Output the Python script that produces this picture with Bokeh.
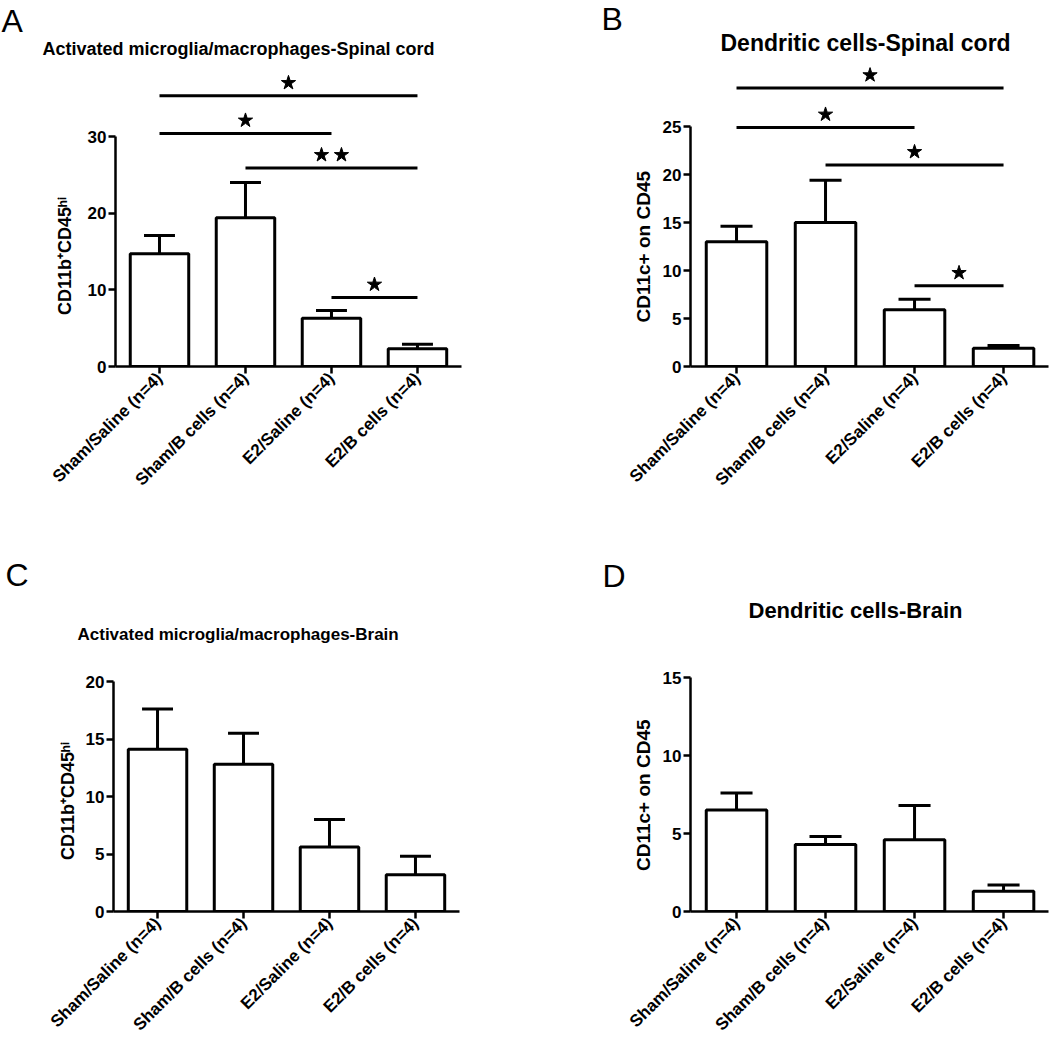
import math
from bokeh.plotting import figure
from bokeh.models import Range1d, FixedTicker, ColumnDataSource, Title
from bokeh.layouts import column, row
from bokeh.embed import file_html
from bokeh.resources import INLINE

# ---------------- data ----------------
groups = ["Sham/Saline (n=4)", "Sham/B cells (n=4)", "E2/Saline (n=4)", "E2/B cells (n=4)"]

a_mean = [14.7, 19.4, 6.3, 2.3]
a_sem = [2.4, 4.6, 1.0, 0.6]
b_mean = [13.0, 15.0, 5.9, 1.9]
b_sem = [1.6, 4.4, 1.1, 0.3]
c_mean = [14.1, 12.8, 5.6, 3.2]
c_sem = [3.5, 2.7, 2.4, 1.6]
d_mean = [6.5, 4.3, 4.6, 1.3]
d_sem = [1.1, 0.5, 2.2, 0.4]

sig_pairs = [(0, 3), (0, 2), (1, 3), (2, 3)]
a_sig_y = [35.3, 30.4, 25.9, 9.0]
a_sig_stars = [1, 1, 2, 1]
b_sig_y = [29.0, 24.9, 21.0, 8.4]
b_sig_stars = [1, 1, 1, 1]

a_ticks = [0, 10, 20, 30]
b_ticks = [0, 5, 10, 15, 20, 25]
c_ticks = [0, 5, 10, 15, 20]
d_ticks = [0, 5, 10, 15]

ylab_b = "CD11b\u207aCD45\u02b0\u2071"
ylab_c = "CD11c+ on CD45"

FONT = "Liberation Sans"


def panel(cfg):
    p = figure(width=cfg["w"], height=cfg["h"], title=None,
               x_range=Range1d(*cfg["xr"]), y_range=Range1d(0, cfg["yend"]),
               output_backend="svg", toolbar_location=None,
               min_border_left=cfg["ml"], min_border_right=cfg["mr"],
               min_border_top=cfg["mt"], min_border_bottom=cfg["mb"])
    p.frame_align = False
    p.outline_line_color = None
    p.grid.visible = False
    p.background_fill_color = "white"
    p.border_fill_color = "white"

    xs = list(range(len(groups)))
    means, sems = cfg["mean"], cfg["sem"]
    tops = [m + s for m, s in zip(means, sems)]
    cap = 0.36
    src = ColumnDataSource(dict(x=xs, mean=means, top=tops,
                                cx0=[x - cap / 2 for x in xs], cx1=[x + cap / 2 for x in xs]))
    p.segment(x0="x", y0="mean", x1="x", y1="top", source=src, line_width=3, line_color="black")
    p.segment(x0="cx0", y0="top", x1="cx1", y1="top", source=src, line_width=3, line_color="black")
    p.vbar(x="x", top="mean", width=0.68, source=src, fill_color="white",
           line_color="black", line_width=3)

    # significance brackets
    if cfg.get("sig_y"):
        ppu = cfg["ppu"]
        for (i0, i1), h, n in zip(sig_pairs, cfg["sig_y"], cfg["sig_n"]):
            p.segment(x0=[i0], y0=[h], x1=[i1], y1=[h], line_width=3, line_color="black")
            mid = (i0 + i1) / 2
            sx = [mid] if n == 1 else [mid - 0.116, mid + 0.116]
            p.scatter(x=sx, y=[h + 13.0 / ppu] * len(sx), marker="star", size=15,
                      fill_color="black", line_color="black")

    # axes
    xa = p.xaxis[0]
    xa.ticker = FixedTicker(ticks=xs)
    xa.major_label_overrides = {i: g for i, g in enumerate(groups)}
    xa.major_label_orientation = math.pi / 4
    ya = p.yaxis[0]
    ya.ticker = FixedTicker(ticks=cfg["ticks"])
    ya.bounds = (0, cfg["ticks"][-1])
    for ax in (xa, ya):
        ax.axis_line_width = 2.5
        ax.axis_line_color = "black"
        ax.major_tick_line_width = 2.5
        ax.major_tick_line_color = "black"
        ax.major_tick_out = 7
        ax.major_tick_in = 0
        ax.minor_tick_out = 0
        ax.minor_tick_in = 0
        ax.major_label_text_font = FONT
        ax.major_label_text_font_style = "bold"
        ax.major_label_text_color = "black"
        ax.major_label_standoff = 2
    xa.major_label_text_font_size = "17px"
    ya.major_label_text_font_size = "17px"

    # y axis title (placed outside the axis, centred on the axis extent)
    p.add_layout(Title(text=cfg["ylabel"], text_font=FONT, text_font_style="bold",
                       text_font_size=cfg["ylab_size"], text_color="black",
                       align="left", offset=cfg["ylab_off"], standoff=cfg["ylab_so"],
                       vertical_align="bottom"), "left")
    # panel title then panel letter
    p.add_layout(Title(text=cfg["title"], text_font=FONT, text_font_style="bold",
                       text_font_size=cfg["title_size"], text_color="black",
                       align="left", offset=cfg["title_off"], standoff=cfg["title_so"],
                       vertical_align="bottom"), "above")
    p.add_layout(Title(text=cfg["letter"], text_font=FONT, text_font_style="normal",
                       text_font_size="32px", text_color="black",
                       align="left", offset=cfg["let_off"], standoff=cfg["let_so"],
                       vertical_align="bottom"), "above")
    return p


pA = panel(dict(w=520, h=520, ml=115, mr=59, mt=64, mb=154, xr=(-0.5116, 3.512),
                yend=302 / (230 / 30), ppu=230 / 30, ticks=a_ticks, mean=a_mean, sem=a_sem,
                sig_y=a_sig_y, sig_n=a_sig_stars,
                ylabel=ylab_b, ylab_size="18px", ylab_off=51.5, ylab_so=19.6,
                title="Activated microglia/macrophages-Spinal cord", title_size="18px",
                title_off=-73, title_so=10.4, letter="A", let_off=-114, let_so=-12.6))

pB = panel(dict(w=530, h=520, ml=170, mr=2, mt=60, mb=154, xr=(-0.517, 3.505),
                yend=306 / 9.6, ppu=9.6, ticks=b_ticks, mean=b_mean, sem=b_sem,
                sig_y=b_sig_y, sig_n=b_sig_stars,
                ylabel=ylab_c, ylab_size="19px", ylab_off=44, ylab_so=10.4,
                title="Dendritic cells-Spinal cord", title_size="23px",
                title_off=30, title_so=8.2, letter="B", let_off=-89, let_so=-25.4))

pC = panel(dict(w=520, h=525, ml=113, mr=61, mt=126, mb=134, xr=(-0.512, 3.512),
                yend=265 / 11.5, ppu=11.5, ticks=c_ticks, mean=c_mean, sem=c_sem,
                ylabel=ylab_b, ylab_size="18px", ylab_off=51.5, ylab_so=9.6,
                title="Activated microglia/macrophages-Brain", title_size="17px",
                title_off=-36, title_so=4.8, letter="C", let_off=-108, let_so=54.8))

pD = panel(dict(w=530, h=525, ml=170, mr=2, mt=105, mb=134, xr=(-0.517, 3.505),
                yend=286 / 15.6, ppu=15.6, ticks=d_ticks, mean=d_mean, sem=d_sem,
                ylabel=ylab_c, ylab_size="19px", ylab_off=40.5, ylab_so=10.4,
                title="Dendritic cells-Brain", title_size="22px",
                title_off=58, title_so=4.6, letter="D", let_off=-88, let_so=0))

layout = column(row(pA, pB), row(pC, pD))
open("out.html", "w").write(file_html(layout, INLINE))
